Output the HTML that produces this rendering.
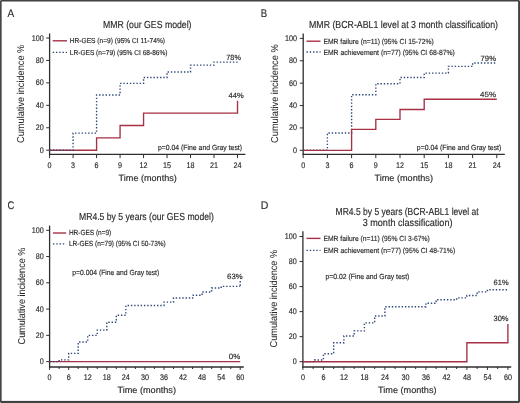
<!DOCTYPE html>
<html><head><meta charset="utf-8"><style>
html,body{margin:0;padding:0;background:#fff;}
body{width:520px;height:403px;overflow:hidden;position:relative;}
svg{position:absolute;left:0;top:0;font-family:"Liberation Sans", sans-serif;will-change:transform;}
text{stroke:#2b2b2b;stroke-width:0.16px;text-rendering:geometricPrecision;}
</style></head><body>
<svg width="520" height="403" viewBox="0 0 520 403">
<rect x="0" y="0" width="520" height="403" fill="#fff"/>
<line x1="49.60" y1="33.40" x2="49.60" y2="155.00" stroke="#2e2e2e" stroke-width="1.3" />
<line x1="48.95" y1="154.40" x2="245.40" y2="154.40" stroke="#2e2e2e" stroke-width="1.3" />
<line x1="46.20" y1="150.20" x2="49.60" y2="150.20" stroke="#2e2e2e" stroke-width="1.0" />
<text x="39.80" y="152.70" font-size="8.2" text-anchor="start" textLength="4.00" lengthAdjust="spacingAndGlyphs" fill="#2b2b2b">0</text>
<line x1="46.20" y1="127.76" x2="49.60" y2="127.76" stroke="#2e2e2e" stroke-width="1.0" />
<text x="35.80" y="130.26" font-size="8.2" text-anchor="start" textLength="8.00" lengthAdjust="spacingAndGlyphs" fill="#2b2b2b">20</text>
<line x1="46.20" y1="105.32" x2="49.60" y2="105.32" stroke="#2e2e2e" stroke-width="1.0" />
<text x="35.80" y="107.82" font-size="8.2" text-anchor="start" textLength="8.00" lengthAdjust="spacingAndGlyphs" fill="#2b2b2b">40</text>
<line x1="46.20" y1="82.88" x2="49.60" y2="82.88" stroke="#2e2e2e" stroke-width="1.0" />
<text x="35.80" y="85.38" font-size="8.2" text-anchor="start" textLength="8.00" lengthAdjust="spacingAndGlyphs" fill="#2b2b2b">60</text>
<line x1="46.20" y1="60.44" x2="49.60" y2="60.44" stroke="#2e2e2e" stroke-width="1.0" />
<text x="35.80" y="62.94" font-size="8.2" text-anchor="start" textLength="8.00" lengthAdjust="spacingAndGlyphs" fill="#2b2b2b">80</text>
<line x1="46.20" y1="38.00" x2="49.60" y2="38.00" stroke="#2e2e2e" stroke-width="1.0" />
<text x="31.80" y="40.50" font-size="8.2" text-anchor="start" textLength="12.00" lengthAdjust="spacingAndGlyphs" fill="#2b2b2b">100</text>
<line x1="49.60" y1="154.40" x2="49.60" y2="158.10" stroke="#2e2e2e" stroke-width="1.0" />
<line x1="73.09" y1="154.40" x2="73.09" y2="158.10" stroke="#2e2e2e" stroke-width="1.0" />
<line x1="96.58" y1="154.40" x2="96.58" y2="158.10" stroke="#2e2e2e" stroke-width="1.0" />
<line x1="120.07" y1="154.40" x2="120.07" y2="158.10" stroke="#2e2e2e" stroke-width="1.0" />
<line x1="143.56" y1="154.40" x2="143.56" y2="158.10" stroke="#2e2e2e" stroke-width="1.0" />
<line x1="167.05" y1="154.40" x2="167.05" y2="158.10" stroke="#2e2e2e" stroke-width="1.0" />
<line x1="190.54" y1="154.40" x2="190.54" y2="158.10" stroke="#2e2e2e" stroke-width="1.0" />
<line x1="214.03" y1="154.40" x2="214.03" y2="158.10" stroke="#2e2e2e" stroke-width="1.0" />
<line x1="237.52" y1="154.40" x2="237.52" y2="158.10" stroke="#2e2e2e" stroke-width="1.0" />
<text x="47.60" y="167.60" font-size="8.2" text-anchor="start" textLength="4.00" lengthAdjust="spacingAndGlyphs" fill="#2b2b2b">0</text>
<text x="71.09" y="167.60" font-size="8.2" text-anchor="start" textLength="4.00" lengthAdjust="spacingAndGlyphs" fill="#2b2b2b">3</text>
<text x="94.58" y="167.60" font-size="8.2" text-anchor="start" textLength="4.00" lengthAdjust="spacingAndGlyphs" fill="#2b2b2b">6</text>
<text x="118.07" y="167.60" font-size="8.2" text-anchor="start" textLength="4.00" lengthAdjust="spacingAndGlyphs" fill="#2b2b2b">9</text>
<text x="139.56" y="167.60" font-size="8.2" text-anchor="start" textLength="8.00" lengthAdjust="spacingAndGlyphs" fill="#2b2b2b">12</text>
<text x="163.05" y="167.60" font-size="8.2" text-anchor="start" textLength="8.00" lengthAdjust="spacingAndGlyphs" fill="#2b2b2b">15</text>
<text x="186.54" y="167.60" font-size="8.2" text-anchor="start" textLength="8.00" lengthAdjust="spacingAndGlyphs" fill="#2b2b2b">18</text>
<text x="210.03" y="167.60" font-size="8.2" text-anchor="start" textLength="8.00" lengthAdjust="spacingAndGlyphs" fill="#2b2b2b">21</text>
<text x="233.52" y="167.60" font-size="8.2" text-anchor="start" textLength="8.00" lengthAdjust="spacingAndGlyphs" fill="#2b2b2b">24</text>
<path d="M49.60 150.20 H96.58 V137.86 H120.07 V125.52 H143.56 V113.17 H237.52 V113.17 H237.52 V100.83" fill="none" stroke="#a63045" stroke-width="1.35"/>
<path d="M49.60 150.20 H73.09 V133.15 H96.58 V95.00 H120.07 V83.33 H143.56 V77.49 H167.05 V72.00 H190.54 V65.15 H214.03 V62.12 H237.52 V62.12" fill="none" stroke="#2d4778" stroke-width="1.4" stroke-dasharray="1.4 1.87"/>
<line x1="52.70" y1="40.80" x2="67.00" y2="40.80" stroke="#a63045" stroke-width="1.4" />
<line x1="52.70" y1="52.30" x2="67.00" y2="52.30" stroke="#2d4778" stroke-width="1.3" stroke-dasharray="1.4 1.87"/>
<line x1="303.20" y1="33.60" x2="303.20" y2="155.00" stroke="#2e2e2e" stroke-width="1.3" />
<line x1="302.55" y1="154.40" x2="504.80" y2="154.40" stroke="#2e2e2e" stroke-width="1.3" />
<line x1="299.80" y1="150.30" x2="303.20" y2="150.30" stroke="#2e2e2e" stroke-width="1.0" />
<text x="293.00" y="152.80" font-size="8.2" text-anchor="start" textLength="4.00" lengthAdjust="spacingAndGlyphs" fill="#2b2b2b">0</text>
<line x1="299.80" y1="127.92" x2="303.20" y2="127.92" stroke="#2e2e2e" stroke-width="1.0" />
<text x="289.00" y="130.42" font-size="8.2" text-anchor="start" textLength="8.00" lengthAdjust="spacingAndGlyphs" fill="#2b2b2b">20</text>
<line x1="299.80" y1="105.54" x2="303.20" y2="105.54" stroke="#2e2e2e" stroke-width="1.0" />
<text x="289.00" y="108.04" font-size="8.2" text-anchor="start" textLength="8.00" lengthAdjust="spacingAndGlyphs" fill="#2b2b2b">40</text>
<line x1="299.80" y1="83.16" x2="303.20" y2="83.16" stroke="#2e2e2e" stroke-width="1.0" />
<text x="289.00" y="85.66" font-size="8.2" text-anchor="start" textLength="8.00" lengthAdjust="spacingAndGlyphs" fill="#2b2b2b">60</text>
<line x1="299.80" y1="60.78" x2="303.20" y2="60.78" stroke="#2e2e2e" stroke-width="1.0" />
<text x="289.00" y="63.28" font-size="8.2" text-anchor="start" textLength="8.00" lengthAdjust="spacingAndGlyphs" fill="#2b2b2b">80</text>
<line x1="299.80" y1="38.40" x2="303.20" y2="38.40" stroke="#2e2e2e" stroke-width="1.0" />
<text x="285.00" y="40.90" font-size="8.2" text-anchor="start" textLength="12.00" lengthAdjust="spacingAndGlyphs" fill="#2b2b2b">100</text>
<line x1="303.20" y1="154.40" x2="303.20" y2="158.10" stroke="#2e2e2e" stroke-width="1.0" />
<line x1="327.40" y1="154.40" x2="327.40" y2="158.10" stroke="#2e2e2e" stroke-width="1.0" />
<line x1="351.60" y1="154.40" x2="351.60" y2="158.10" stroke="#2e2e2e" stroke-width="1.0" />
<line x1="375.80" y1="154.40" x2="375.80" y2="158.10" stroke="#2e2e2e" stroke-width="1.0" />
<line x1="400.00" y1="154.40" x2="400.00" y2="158.10" stroke="#2e2e2e" stroke-width="1.0" />
<line x1="424.20" y1="154.40" x2="424.20" y2="158.10" stroke="#2e2e2e" stroke-width="1.0" />
<line x1="448.40" y1="154.40" x2="448.40" y2="158.10" stroke="#2e2e2e" stroke-width="1.0" />
<line x1="472.60" y1="154.40" x2="472.60" y2="158.10" stroke="#2e2e2e" stroke-width="1.0" />
<line x1="496.80" y1="154.40" x2="496.80" y2="158.10" stroke="#2e2e2e" stroke-width="1.0" />
<text x="301.20" y="167.60" font-size="8.2" text-anchor="start" textLength="4.00" lengthAdjust="spacingAndGlyphs" fill="#2b2b2b">0</text>
<text x="325.40" y="167.60" font-size="8.2" text-anchor="start" textLength="4.00" lengthAdjust="spacingAndGlyphs" fill="#2b2b2b">3</text>
<text x="349.60" y="167.60" font-size="8.2" text-anchor="start" textLength="4.00" lengthAdjust="spacingAndGlyphs" fill="#2b2b2b">6</text>
<text x="373.80" y="167.60" font-size="8.2" text-anchor="start" textLength="4.00" lengthAdjust="spacingAndGlyphs" fill="#2b2b2b">9</text>
<text x="396.00" y="167.60" font-size="8.2" text-anchor="start" textLength="8.00" lengthAdjust="spacingAndGlyphs" fill="#2b2b2b">12</text>
<text x="420.20" y="167.60" font-size="8.2" text-anchor="start" textLength="8.00" lengthAdjust="spacingAndGlyphs" fill="#2b2b2b">15</text>
<text x="444.40" y="167.60" font-size="8.2" text-anchor="start" textLength="8.00" lengthAdjust="spacingAndGlyphs" fill="#2b2b2b">18</text>
<text x="468.60" y="167.60" font-size="8.2" text-anchor="start" textLength="8.00" lengthAdjust="spacingAndGlyphs" fill="#2b2b2b">21</text>
<text x="492.80" y="167.60" font-size="8.2" text-anchor="start" textLength="8.00" lengthAdjust="spacingAndGlyphs" fill="#2b2b2b">24</text>
<path d="M303.20 150.30 H327.40 V133.07 H351.60 V94.69 H375.80 V83.72 H400.00 V77.57 H424.20 V73.09 H448.40 V66.38 H472.60 V63.02 H496.80 V63.02" fill="none" stroke="#2d4778" stroke-width="1.4" stroke-dasharray="1.4 1.87"/>
<path d="M303.20 150.30 H351.60 V129.37 H375.80 V119.42 H400.00 V109.46 H424.20 V99.27 H496.80 V99.27" fill="none" stroke="#a63045" stroke-width="1.35"/>
<line x1="306.50" y1="41.20" x2="320.50" y2="41.20" stroke="#a63045" stroke-width="1.4" />
<line x1="306.50" y1="52.00" x2="320.50" y2="52.00" stroke="#2d4778" stroke-width="1.3" stroke-dasharray="1.4 1.87"/>
<line x1="49.60" y1="225.60" x2="49.60" y2="367.60" stroke="#2e2e2e" stroke-width="1.3" />
<line x1="48.95" y1="367.00" x2="243.80" y2="367.00" stroke="#2e2e2e" stroke-width="1.3" />
<line x1="46.20" y1="361.60" x2="49.60" y2="361.60" stroke="#2e2e2e" stroke-width="1.0" />
<text x="39.80" y="364.10" font-size="8.2" text-anchor="start" textLength="4.00" lengthAdjust="spacingAndGlyphs" fill="#2b2b2b">0</text>
<line x1="46.20" y1="335.34" x2="49.60" y2="335.34" stroke="#2e2e2e" stroke-width="1.0" />
<text x="35.80" y="337.84" font-size="8.2" text-anchor="start" textLength="8.00" lengthAdjust="spacingAndGlyphs" fill="#2b2b2b">20</text>
<line x1="46.20" y1="309.08" x2="49.60" y2="309.08" stroke="#2e2e2e" stroke-width="1.0" />
<text x="35.80" y="311.58" font-size="8.2" text-anchor="start" textLength="8.00" lengthAdjust="spacingAndGlyphs" fill="#2b2b2b">40</text>
<line x1="46.20" y1="282.82" x2="49.60" y2="282.82" stroke="#2e2e2e" stroke-width="1.0" />
<text x="35.80" y="285.32" font-size="8.2" text-anchor="start" textLength="8.00" lengthAdjust="spacingAndGlyphs" fill="#2b2b2b">60</text>
<line x1="46.20" y1="256.56" x2="49.60" y2="256.56" stroke="#2e2e2e" stroke-width="1.0" />
<text x="35.80" y="259.06" font-size="8.2" text-anchor="start" textLength="8.00" lengthAdjust="spacingAndGlyphs" fill="#2b2b2b">80</text>
<line x1="46.20" y1="230.30" x2="49.60" y2="230.30" stroke="#2e2e2e" stroke-width="1.0" />
<text x="31.80" y="232.80" font-size="8.2" text-anchor="start" textLength="12.00" lengthAdjust="spacingAndGlyphs" fill="#2b2b2b">100</text>
<line x1="49.60" y1="367.00" x2="49.60" y2="369.90" stroke="#2e2e2e" stroke-width="1.0" />
<line x1="59.13" y1="367.00" x2="59.13" y2="369.00" stroke="#2e2e2e" stroke-width="1.0" />
<line x1="68.66" y1="367.00" x2="68.66" y2="369.90" stroke="#2e2e2e" stroke-width="1.0" />
<line x1="78.19" y1="367.00" x2="78.19" y2="369.00" stroke="#2e2e2e" stroke-width="1.0" />
<line x1="87.72" y1="367.00" x2="87.72" y2="369.90" stroke="#2e2e2e" stroke-width="1.0" />
<line x1="97.25" y1="367.00" x2="97.25" y2="369.00" stroke="#2e2e2e" stroke-width="1.0" />
<line x1="106.79" y1="367.00" x2="106.79" y2="369.90" stroke="#2e2e2e" stroke-width="1.0" />
<line x1="116.32" y1="367.00" x2="116.32" y2="369.00" stroke="#2e2e2e" stroke-width="1.0" />
<line x1="125.85" y1="367.00" x2="125.85" y2="369.90" stroke="#2e2e2e" stroke-width="1.0" />
<line x1="135.38" y1="367.00" x2="135.38" y2="369.00" stroke="#2e2e2e" stroke-width="1.0" />
<line x1="144.91" y1="367.00" x2="144.91" y2="369.90" stroke="#2e2e2e" stroke-width="1.0" />
<line x1="154.44" y1="367.00" x2="154.44" y2="369.00" stroke="#2e2e2e" stroke-width="1.0" />
<line x1="163.97" y1="367.00" x2="163.97" y2="369.90" stroke="#2e2e2e" stroke-width="1.0" />
<line x1="173.50" y1="367.00" x2="173.50" y2="369.00" stroke="#2e2e2e" stroke-width="1.0" />
<line x1="183.03" y1="367.00" x2="183.03" y2="369.90" stroke="#2e2e2e" stroke-width="1.0" />
<line x1="192.56" y1="367.00" x2="192.56" y2="369.00" stroke="#2e2e2e" stroke-width="1.0" />
<line x1="202.10" y1="367.00" x2="202.10" y2="369.90" stroke="#2e2e2e" stroke-width="1.0" />
<line x1="211.63" y1="367.00" x2="211.63" y2="369.00" stroke="#2e2e2e" stroke-width="1.0" />
<line x1="221.16" y1="367.00" x2="221.16" y2="369.90" stroke="#2e2e2e" stroke-width="1.0" />
<line x1="230.69" y1="367.00" x2="230.69" y2="369.00" stroke="#2e2e2e" stroke-width="1.0" />
<line x1="240.22" y1="367.00" x2="240.22" y2="369.90" stroke="#2e2e2e" stroke-width="1.0" />
<text x="47.60" y="379.90" font-size="8.2" text-anchor="start" textLength="4.00" lengthAdjust="spacingAndGlyphs" fill="#2b2b2b">0</text>
<text x="66.66" y="379.90" font-size="8.2" text-anchor="start" textLength="4.00" lengthAdjust="spacingAndGlyphs" fill="#2b2b2b">6</text>
<text x="83.72" y="379.90" font-size="8.2" text-anchor="start" textLength="8.00" lengthAdjust="spacingAndGlyphs" fill="#2b2b2b">12</text>
<text x="102.79" y="379.90" font-size="8.2" text-anchor="start" textLength="8.00" lengthAdjust="spacingAndGlyphs" fill="#2b2b2b">18</text>
<text x="121.85" y="379.90" font-size="8.2" text-anchor="start" textLength="8.00" lengthAdjust="spacingAndGlyphs" fill="#2b2b2b">24</text>
<text x="140.91" y="379.90" font-size="8.2" text-anchor="start" textLength="8.00" lengthAdjust="spacingAndGlyphs" fill="#2b2b2b">30</text>
<text x="159.97" y="379.90" font-size="8.2" text-anchor="start" textLength="8.00" lengthAdjust="spacingAndGlyphs" fill="#2b2b2b">36</text>
<text x="179.03" y="379.90" font-size="8.2" text-anchor="start" textLength="8.00" lengthAdjust="spacingAndGlyphs" fill="#2b2b2b">42</text>
<text x="198.10" y="379.90" font-size="8.2" text-anchor="start" textLength="8.00" lengthAdjust="spacingAndGlyphs" fill="#2b2b2b">48</text>
<text x="217.16" y="379.90" font-size="8.2" text-anchor="start" textLength="8.00" lengthAdjust="spacingAndGlyphs" fill="#2b2b2b">54</text>
<text x="236.22" y="379.90" font-size="8.2" text-anchor="start" textLength="8.00" lengthAdjust="spacingAndGlyphs" fill="#2b2b2b">60</text>
<path d="M49.60 361.60 H240.22 V361.60" fill="none" stroke="#a63045" stroke-width="1.35"/>
<path d="M49.60 361.60 H59.13 V359.89 H68.66 V353.33 H78.19 V342.04 H87.72 V335.34 H97.25 V330.09 H106.79 V322.21 H116.32 V315.25 H125.85 V305.53 H163.97 V302.12 H173.50 V298.05 H192.56 V295.29 H202.10 V292.01 H211.63 V288.07 H221.16 V286.37 H240.22 V286.37" fill="none" stroke="#2d4778" stroke-width="1.4" stroke-dasharray="1.4 1.87"/>
<path d="M240.22 280.98 V286.37" fill="none" stroke="#2d4778" stroke-width="1.4" stroke-dasharray="1.4 1.87"/>
<line x1="53.00" y1="233.00" x2="66.20" y2="233.00" stroke="#a63045" stroke-width="1.4" />
<line x1="53.00" y1="243.80" x2="66.20" y2="243.80" stroke="#2d4778" stroke-width="1.3" stroke-dasharray="1.4 1.87"/>
<line x1="302.90" y1="231.30" x2="302.90" y2="367.60" stroke="#2e2e2e" stroke-width="1.3" />
<line x1="302.25" y1="367.00" x2="511.20" y2="367.00" stroke="#2e2e2e" stroke-width="1.3" />
<line x1="299.50" y1="361.70" x2="302.90" y2="361.70" stroke="#2e2e2e" stroke-width="1.0" />
<text x="292.80" y="364.20" font-size="8.2" text-anchor="start" textLength="4.00" lengthAdjust="spacingAndGlyphs" fill="#2b2b2b">0</text>
<line x1="299.50" y1="336.66" x2="302.90" y2="336.66" stroke="#2e2e2e" stroke-width="1.0" />
<text x="288.80" y="339.16" font-size="8.2" text-anchor="start" textLength="8.00" lengthAdjust="spacingAndGlyphs" fill="#2b2b2b">20</text>
<line x1="299.50" y1="311.62" x2="302.90" y2="311.62" stroke="#2e2e2e" stroke-width="1.0" />
<text x="288.80" y="314.12" font-size="8.2" text-anchor="start" textLength="8.00" lengthAdjust="spacingAndGlyphs" fill="#2b2b2b">40</text>
<line x1="299.50" y1="286.58" x2="302.90" y2="286.58" stroke="#2e2e2e" stroke-width="1.0" />
<text x="288.80" y="289.08" font-size="8.2" text-anchor="start" textLength="8.00" lengthAdjust="spacingAndGlyphs" fill="#2b2b2b">60</text>
<line x1="299.50" y1="261.54" x2="302.90" y2="261.54" stroke="#2e2e2e" stroke-width="1.0" />
<text x="288.80" y="264.04" font-size="8.2" text-anchor="start" textLength="8.00" lengthAdjust="spacingAndGlyphs" fill="#2b2b2b">80</text>
<line x1="299.50" y1="236.50" x2="302.90" y2="236.50" stroke="#2e2e2e" stroke-width="1.0" />
<text x="284.80" y="239.00" font-size="8.2" text-anchor="start" textLength="12.00" lengthAdjust="spacingAndGlyphs" fill="#2b2b2b">100</text>
<line x1="302.90" y1="367.00" x2="302.90" y2="369.90" stroke="#2e2e2e" stroke-width="1.0" />
<line x1="313.15" y1="367.00" x2="313.15" y2="369.00" stroke="#2e2e2e" stroke-width="1.0" />
<line x1="323.40" y1="367.00" x2="323.40" y2="369.90" stroke="#2e2e2e" stroke-width="1.0" />
<line x1="333.65" y1="367.00" x2="333.65" y2="369.00" stroke="#2e2e2e" stroke-width="1.0" />
<line x1="343.90" y1="367.00" x2="343.90" y2="369.90" stroke="#2e2e2e" stroke-width="1.0" />
<line x1="354.15" y1="367.00" x2="354.15" y2="369.00" stroke="#2e2e2e" stroke-width="1.0" />
<line x1="364.40" y1="367.00" x2="364.40" y2="369.90" stroke="#2e2e2e" stroke-width="1.0" />
<line x1="374.65" y1="367.00" x2="374.65" y2="369.00" stroke="#2e2e2e" stroke-width="1.0" />
<line x1="384.90" y1="367.00" x2="384.90" y2="369.90" stroke="#2e2e2e" stroke-width="1.0" />
<line x1="395.15" y1="367.00" x2="395.15" y2="369.00" stroke="#2e2e2e" stroke-width="1.0" />
<line x1="405.40" y1="367.00" x2="405.40" y2="369.90" stroke="#2e2e2e" stroke-width="1.0" />
<line x1="415.65" y1="367.00" x2="415.65" y2="369.00" stroke="#2e2e2e" stroke-width="1.0" />
<line x1="425.90" y1="367.00" x2="425.90" y2="369.90" stroke="#2e2e2e" stroke-width="1.0" />
<line x1="436.15" y1="367.00" x2="436.15" y2="369.00" stroke="#2e2e2e" stroke-width="1.0" />
<line x1="446.40" y1="367.00" x2="446.40" y2="369.90" stroke="#2e2e2e" stroke-width="1.0" />
<line x1="456.65" y1="367.00" x2="456.65" y2="369.00" stroke="#2e2e2e" stroke-width="1.0" />
<line x1="466.90" y1="367.00" x2="466.90" y2="369.90" stroke="#2e2e2e" stroke-width="1.0" />
<line x1="477.15" y1="367.00" x2="477.15" y2="369.00" stroke="#2e2e2e" stroke-width="1.0" />
<line x1="487.40" y1="367.00" x2="487.40" y2="369.90" stroke="#2e2e2e" stroke-width="1.0" />
<line x1="497.65" y1="367.00" x2="497.65" y2="369.00" stroke="#2e2e2e" stroke-width="1.0" />
<line x1="507.90" y1="367.00" x2="507.90" y2="369.90" stroke="#2e2e2e" stroke-width="1.0" />
<text x="300.90" y="379.90" font-size="8.2" text-anchor="start" textLength="4.00" lengthAdjust="spacingAndGlyphs" fill="#2b2b2b">0</text>
<text x="321.40" y="379.90" font-size="8.2" text-anchor="start" textLength="4.00" lengthAdjust="spacingAndGlyphs" fill="#2b2b2b">6</text>
<text x="339.90" y="379.90" font-size="8.2" text-anchor="start" textLength="8.00" lengthAdjust="spacingAndGlyphs" fill="#2b2b2b">12</text>
<text x="360.40" y="379.90" font-size="8.2" text-anchor="start" textLength="8.00" lengthAdjust="spacingAndGlyphs" fill="#2b2b2b">18</text>
<text x="380.90" y="379.90" font-size="8.2" text-anchor="start" textLength="8.00" lengthAdjust="spacingAndGlyphs" fill="#2b2b2b">24</text>
<text x="401.40" y="379.90" font-size="8.2" text-anchor="start" textLength="8.00" lengthAdjust="spacingAndGlyphs" fill="#2b2b2b">30</text>
<text x="421.90" y="379.90" font-size="8.2" text-anchor="start" textLength="8.00" lengthAdjust="spacingAndGlyphs" fill="#2b2b2b">36</text>
<text x="442.40" y="379.90" font-size="8.2" text-anchor="start" textLength="8.00" lengthAdjust="spacingAndGlyphs" fill="#2b2b2b">42</text>
<text x="462.90" y="379.90" font-size="8.2" text-anchor="start" textLength="8.00" lengthAdjust="spacingAndGlyphs" fill="#2b2b2b">48</text>
<text x="483.40" y="379.90" font-size="8.2" text-anchor="start" textLength="8.00" lengthAdjust="spacingAndGlyphs" fill="#2b2b2b">54</text>
<text x="503.90" y="379.90" font-size="8.2" text-anchor="start" textLength="8.00" lengthAdjust="spacingAndGlyphs" fill="#2b2b2b">60</text>
<path d="M302.90 361.70 H314.52 V360.07 H323.40 V353.69 H333.65 V342.79 H343.90 V336.03 H354.15 V330.90 H364.40 V322.89 H374.65 V316.00 H384.90 V306.74 H425.90 V303.23 H436.15 V299.73 H456.65 V297.85 H466.90 V295.47 H477.15 V291.84 H487.40 V289.71 H507.90 V289.71" fill="none" stroke="#2d4778" stroke-width="1.4" stroke-dasharray="1.4 1.87"/>
<path d="M302.90 361.70 H466.90 V361.70 H466.90 V342.79 H507.90 V342.79 H507.90 V323.89" fill="none" stroke="#a63045" stroke-width="1.35"/>
<line x1="306.50" y1="238.40" x2="320.50" y2="238.40" stroke="#a63045" stroke-width="1.4" />
<line x1="306.50" y1="250.40" x2="320.50" y2="250.40" stroke="#2d4778" stroke-width="1.3" stroke-dasharray="1.4 1.87"/>
<text x="7.50" y="17.20" font-size="11" text-anchor="start" textLength="6.70" lengthAdjust="spacingAndGlyphs" fill="#2b2b2b">A</text>
<text x="260.80" y="17.10" font-size="11.3" text-anchor="start" textLength="6.40" lengthAdjust="spacingAndGlyphs" fill="#2b2b2b">B</text>
<text x="7.50" y="208.70" font-size="11" text-anchor="start" textLength="6.80" lengthAdjust="spacingAndGlyphs" fill="#2b2b2b">C</text>
<text x="260.80" y="209.00" font-size="11" text-anchor="start" textLength="7.60" lengthAdjust="spacingAndGlyphs" fill="#2b2b2b">D</text>
<text x="103.00" y="27.70" font-size="10.2" text-anchor="start" textLength="88.50" lengthAdjust="spacingAndGlyphs" fill="#2b2b2b">MMR (our GES model)</text>
<text x="309.00" y="28.10" font-size="10.2" text-anchor="start" textLength="189.00" lengthAdjust="spacingAndGlyphs" fill="#2b2b2b">MMR (BCR-ABL1 level at 3 month classification)</text>
<text x="79.00" y="220.00" font-size="10.2" text-anchor="start" textLength="134.80" lengthAdjust="spacingAndGlyphs" fill="#2b2b2b">MR4.5 by 5 years (our GES model)</text>
<text x="335.60" y="214.60" font-size="10.2" text-anchor="start" textLength="143.10" lengthAdjust="spacingAndGlyphs" fill="#2b2b2b">MR4.5 by 5 years (BCR-ABL1 level at</text>
<text x="362.70" y="225.60" font-size="10.2" text-anchor="start" textLength="89.80" lengthAdjust="spacingAndGlyphs" fill="#2b2b2b">3 month classification)</text>
<text x="69.80" y="43.00" font-size="7.2" text-anchor="start" textLength="95.20" lengthAdjust="spacingAndGlyphs" fill="#2b2b2b">HR-GES (n=9) (95% CI 11-74%)</text>
<text x="69.80" y="54.60" font-size="7.2" text-anchor="start" textLength="97.70" lengthAdjust="spacingAndGlyphs" fill="#2b2b2b">LR-GES (n=79) (95% CI 68-86%)</text>
<text x="323.40" y="43.50" font-size="7.4" text-anchor="start" textLength="110.40" lengthAdjust="spacingAndGlyphs" fill="#2b2b2b">EMR failure (n=11) (95% CI 15-72%)</text>
<text x="323.40" y="54.80" font-size="7.4" text-anchor="start" textLength="131.50" lengthAdjust="spacingAndGlyphs" fill="#2b2b2b">EMR achievement (n=77) (95% CI 68-87%)</text>
<text x="68.90" y="235.20" font-size="7.4" text-anchor="start" textLength="42.40" lengthAdjust="spacingAndGlyphs" fill="#2b2b2b">HR-GES (n=9)</text>
<text x="68.90" y="246.00" font-size="7.4" text-anchor="start" textLength="96.90" lengthAdjust="spacingAndGlyphs" fill="#2b2b2b">LR-GES (n=79) (95% CI 50-73%)</text>
<text x="323.40" y="240.70" font-size="7.4" text-anchor="start" textLength="106.30" lengthAdjust="spacingAndGlyphs" fill="#2b2b2b">EMR failure (n=11) (95% CI 3-67%)</text>
<text x="323.40" y="252.80" font-size="7.4" text-anchor="start" textLength="131.80" lengthAdjust="spacingAndGlyphs" fill="#2b2b2b">EMR achievement (n=77) (95% CI 48-71%)</text>
<text x="158.00" y="149.80" font-size="7.4" text-anchor="start" textLength="84.00" lengthAdjust="spacingAndGlyphs" fill="#2b2b2b">p=0.04 (Fine and Gray test)</text>
<text x="416.80" y="150.00" font-size="7.4" text-anchor="start" textLength="84.50" lengthAdjust="spacingAndGlyphs" fill="#2b2b2b">p=0.04 (Fine and Gray test)</text>
<text x="72.30" y="274.80" font-size="7.4" text-anchor="start" textLength="86.90" lengthAdjust="spacingAndGlyphs" fill="#2b2b2b">p=0.004 (Fine and Gray test)</text>
<text x="325.40" y="278.80" font-size="7.4" text-anchor="start" textLength="84.00" lengthAdjust="spacingAndGlyphs" fill="#2b2b2b">p=0.02 (Fine and Gray test)</text>
<text x="226.30" y="59.70" font-size="7.6" text-anchor="start" textLength="14.60" lengthAdjust="spacingAndGlyphs" fill="#2b2b2b">78%</text>
<text x="228.60" y="97.80" font-size="7.6" text-anchor="start" textLength="15.10" lengthAdjust="spacingAndGlyphs" fill="#2b2b2b">44%</text>
<text x="480.60" y="61.10" font-size="7.6" text-anchor="start" textLength="15.40" lengthAdjust="spacingAndGlyphs" fill="#2b2b2b">79%</text>
<text x="480.10" y="96.60" font-size="7.6" text-anchor="start" textLength="15.90" lengthAdjust="spacingAndGlyphs" fill="#2b2b2b">45%</text>
<text x="227.10" y="278.90" font-size="7.6" text-anchor="start" textLength="15.50" lengthAdjust="spacingAndGlyphs" fill="#2b2b2b">63%</text>
<text x="228.80" y="358.70" font-size="7.6" text-anchor="start" textLength="11.40" lengthAdjust="spacingAndGlyphs" fill="#2b2b2b">0%</text>
<text x="493.60" y="284.60" font-size="7.6" text-anchor="start" textLength="15.00" lengthAdjust="spacingAndGlyphs" fill="#2b2b2b">61%</text>
<text x="493.50" y="321.00" font-size="7.6" text-anchor="start" textLength="15.00" lengthAdjust="spacingAndGlyphs" fill="#2b2b2b">30%</text>
<text x="118.60" y="180.80" font-size="9" text-anchor="start" textLength="58.20" lengthAdjust="spacingAndGlyphs" fill="#2b2b2b">Time (months)</text>
<text x="374.40" y="180.70" font-size="9" text-anchor="start" textLength="58.60" lengthAdjust="spacingAndGlyphs" fill="#2b2b2b">Time (months)</text>
<text x="117.40" y="392.80" font-size="9" text-anchor="start" textLength="58.60" lengthAdjust="spacingAndGlyphs" fill="#2b2b2b">Time (months)</text>
<text x="378.10" y="392.80" font-size="9" text-anchor="start" textLength="58.40" lengthAdjust="spacingAndGlyphs" fill="#2b2b2b">Time (months)</text>
<text transform="translate(24.10 93.80) rotate(-90)" x="0" y="0" font-size="10" text-anchor="middle" textLength="98.20" lengthAdjust="spacingAndGlyphs" fill="#2b2b2b" style="stroke-width:0.04px">Cumulative incidence %</text>
<text transform="translate(277.50 93.65) rotate(-90)" x="0" y="0" font-size="10" text-anchor="middle" textLength="98.50" lengthAdjust="spacingAndGlyphs" fill="#2b2b2b" style="stroke-width:0.04px">Cumulative incidence %</text>
<text transform="translate(24.50 296.05) rotate(-90)" x="0" y="0" font-size="10" text-anchor="middle" textLength="96.70" lengthAdjust="spacingAndGlyphs" fill="#2b2b2b" style="stroke-width:0.04px">Cumulative incidence %</text>
<text transform="translate(277.30 298.65) rotate(-90)" x="0" y="0" font-size="10" text-anchor="middle" textLength="97.50" lengthAdjust="spacingAndGlyphs" fill="#2b2b2b" style="stroke-width:0.04px">Cumulative incidence %</text>
<rect x="0" y="0" width="1.65" height="403" fill="#464646"/><rect x="0" y="0" width="520" height="1.5" fill="#424242"/><rect x="518.1" y="0" width="1.9" height="403" fill="#424242"/><rect x="0" y="400.9" width="520" height="2.1" fill="#424242"/><rect x="0" y="0" width="1" height="1" fill="#9a9a9a"/><rect x="519" y="0" width="1" height="1" fill="#9a9a9a"/><rect x="0" y="402" width="1" height="1" fill="#9a9a9a"/><rect x="519" y="402" width="1" height="1" fill="#9a9a9a"/>
</svg>
</body></html>
